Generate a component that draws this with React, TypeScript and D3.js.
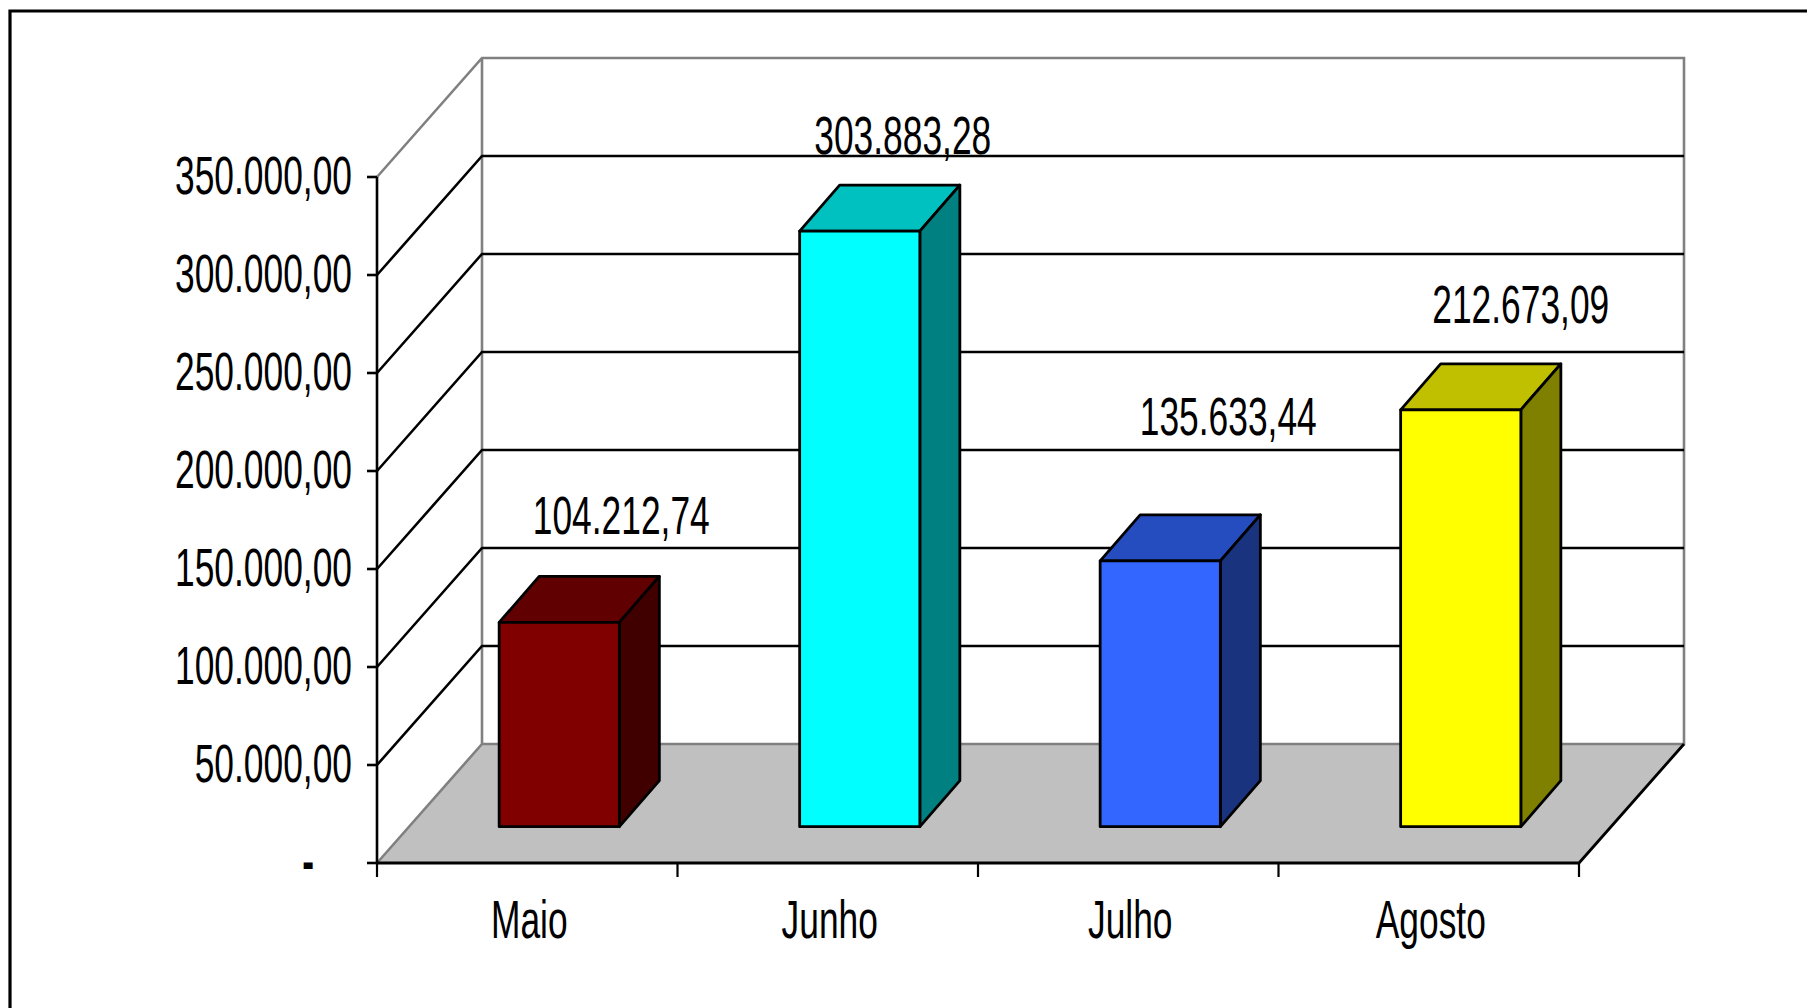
import React from "react";
import * as d3 from "d3";

const categories = ["Maio", "Junho", "Julho", "Agosto"];
const values = [104212.74, 303883.28, 135633.44, 212673.09];
const valueLabels = ["104.212,74", "303.883,28", "135.633,44", "212.673,09"];
const yTicks = [0, 50000, 100000, 150000, 200000, 250000, 300000, 350000];
const yTickLabels = ["-", "50.000,00", "100.000,00", "150.000,00", "200.000,00", "250.000,00", "300.000,00", "350.000,00"];
const frontColors = ["#800000", "#00ffff", "#3366ff", "#ffff00"];
const topColors = ["#600000", "#00c0c0", "#264dbf", "#c0c000"];
const sideColors = ["#400000", "#008080", "#1a337f", "#808000"];

const W = 1807, H = 1008;
const FONT = "'Liberation Sans', Arial, sans-serif";
const FS = 54, SX = 0.655;

const left = 377, right = 1579, bottom = 863, top = 177;
const depthX = 105, depthY = 119;
const barOffX = 32, barOffY = 36.3, barDX = 40, barDY = 46;
// hand-placed data labels of the original: centre offset from bar centre, baseline above bar top
const labelDX = [62, 43, 68, 60];
const labelDY = [88.5, 76.7, 126, 87];

const y = d3.scaleLinear().domain([0, 350000]).range([bottom, top]);
const x = d3.scaleBand<string>().domain(categories).range([left, right]).paddingInner(0.6).paddingOuter(0.3);
const xEdges = d3.range(categories.length + 1).map((i) => left + (i * (right - left)) / categories.length);

const pts = (p: number[][]) => p.map((d) => d.join(",")).join(" ");

function Label({ px, py, anchor, children, weight }: any) {
  return (
    <text
      transform={`translate(${px},${py}) scale(${SX},1)`}
      textAnchor={anchor}
      fontFamily={FONT}
      fontSize={FS}
      fontWeight={weight}
      fill="#000"
    >
      {children}
    </text>
  );
}

export default function App() {
  const bw = x.bandwidth();
  const topY = y(350000);
  const floorY = bottom - depthY;
  return (
    <svg width={W} height={H} viewBox={`0 0 ${W} ${H}`} style={{ position: "absolute", left: 0, top: 0, background: "#fff" }}>
      <path d={`M${W},11 L10,11 L10,${H}`} fill="none" stroke="#000" strokeWidth={3.2} />

      {/* floor */}
      <polygon
        points={pts([[left, bottom], [left + depthX, floorY], [right + depthX, floorY], [right, bottom]])}
        fill="#c0c0c0"
      />
      {/* walls */}
      <path
        d={`M${left},${topY} L${left + depthX},${topY - depthY} L${right + depthX},${topY - depthY} L${right + depthX},${floorY} L${left + depthX},${floorY} L${left},${bottom} M${left + depthX},${topY - depthY} L${left + depthX},${floorY}`}
        fill="none"
        stroke="#808080"
        strokeWidth={2.6}
      />
      {/* gridlines */}
      {yTicks.slice(1, -1).map((t) => (
        <path
          key={t}
          d={`M${left},${y(t)} L${left + depthX},${y(t) - depthY} L${right + depthX},${y(t) - depthY}`}
          fill="none"
          stroke="#000"
          strokeWidth={2.6}
        />
      ))}
      {/* floor front and right edges */}
      <path d={`M${left},${bottom} L${right},${bottom} L${right + depthX},${floorY}`} fill="none" stroke="#000" strokeWidth={2.8} />
      {/* axes */}
      <line x1={left} x2={left} y1={top} y2={bottom} stroke="#000" strokeWidth={2.6} />
      {yTicks.map((t) => (
        <line key={t} x1={left - 10} x2={left} y1={y(t)} y2={y(t)} stroke="#000" strokeWidth={2.6} />
      ))}
      {xEdges.map((e) => (
        <line key={e} x1={e} x2={e} y1={bottom} y2={bottom + 14} stroke="#000" strokeWidth={2.2} />
      ))}
      {yTicks.map((t, i) =>
        i === 0 ? (
          <Label key={t} px={314} py={y(t) + 17} anchor="end" weight="bold">{yTickLabels[i]}</Label>
        ) : (
          <Label key={t} px={352} py={y(t) + 17} anchor="end">{yTickLabels[i]}</Label>
        )
      )}
      {categories.map((c) => (
        <Label key={c} px={x(c)! + bw / 2 + 2} py={938} anchor="middle">{c}</Label>
      ))}

      {/* bars */}
      {categories.map((c, i) => {
        const x0 = x(c)! + barOffX;
        const x1 = x0 + bw;
        const y1 = y(0) - barOffY;
        const y0 = y(values[i]) - barOffY;
        return (
          <g key={c} stroke="#000" strokeWidth={2.8} strokeLinejoin="round">
            <polygon points={pts([[x0, y0], [x0 + barDX, y0 - barDY], [x1 + barDX, y0 - barDY], [x1, y0]])} fill={topColors[i]} />
            <polygon points={pts([[x1, y0], [x1 + barDX, y0 - barDY], [x1 + barDX, y1 - barDY], [x1, y1]])} fill={sideColors[i]} />
            <rect x={x0} y={y0} width={bw} height={y1 - y0} fill={frontColors[i]} />
          </g>
        );
      })}
      {categories.map((c, i) => (
        <Label
          key={c}
          px={x(c)! + barOffX + bw / 2 + labelDX[i]}
          py={y(values[i]) - barOffY - labelDY[i]}
          anchor="middle"
        >
          {valueLabels[i]}
        </Label>
      ))}
    </svg>
  );
}
